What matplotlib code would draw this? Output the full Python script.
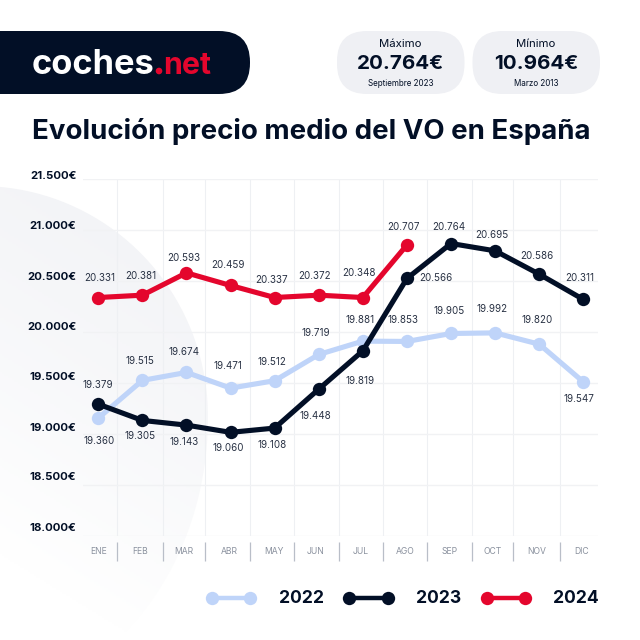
import numpy as np
import matplotlib
matplotlib.use("Agg")
import matplotlib.pyplot as plt
from matplotlib.patches import FancyBboxPatch, Circle, PathPatch
from matplotlib.path import Path

FONT = "Inter"
plt.rcParams["font.family"] = [FONT, "DejaVu Sans"]

months = ["ENE", "FEB", "MAR", "ABR", "MAY", "JUN", "JUL", "AGO", "SEP", "OCT", "NOV", "DIC"]
y_ticks = [18000, 18500, 19000, 19500, 20000, 20500, 21000, 21500]
y_tick_labels = ["18.000€", "18.500€", "19.000€", "19.500€", "20.000€", "20.500€", "21.000€", "21.500€"]

# Height of the marks as drawn in the picture
v2022 = [19157, 19527, 19605, 19451, 19524, 19781, 19912, 19909, 19987, 19993, 19882, 19512]
v2023 = [19294, 19134, 19088, 19017, 19059, 19441, 19817, 20527, 20870, 20798, 20569, 20321]
v2024 = [20340, 20363, 20582, 20458, 20340, 20363, 20340, 20856]

# Printed labels
l2022 = ["19.360", "19.515", "19.674", "19.471", "19.512", "19.719", "19.881", "19.853", "19.905", "19.992", "19.820", "19.547"]
l2023 = ["19.379", "19.305", "19.143", "19.060", "19.108", "19.448", "19.819", "20.566", "20.764", "20.695", "20.586", "20.311"]
l2024 = ["20.331", "20.381", "20.593", "20.459", "20.337", "20.372", "20.348", "20.707"]

# Label offsets from their marks, pixels (dx, up)
o2022 = [(1, -23), (-2, 19), (-2.5, 20), (-2.6, 22), (-3, 19), (-3, 21), (-3, 21), (-3.6, 21), (-2, 22), (-3, 24), (-2, 24), (-4.6, -17)]
o2023 = [(0, 19), (-2, -16), (-2, -17), (-2.6, -16), (-3, -17), (-3, -27), (-3, -30), (29, 0), (-2, 17), (-3, 16), (-2, 18), (-4, 21)]
o2024 = [(1, 20), (-2, 19), (-2.5, 15), (-2.6, 20), (-3, 18), (-4, 19), (-3.5, 25), (-3, 18)]

DARK, RED, LIGHT = "#020f26", "#e4062d", "#bfd4f9"
S = 640.0
fig = plt.figure(figsize=(6.4, 6.4), dpi=100, facecolor="white")

# Page layer in pixel coordinates
bg = fig.add_axes([0, 0, 1, 1], zorder=0)
bg.set_xlim(0, S); bg.set_ylim(S, 0); bg.axis("off")

# Soft blob behind the chart, fading towards the bottom
gx, gy = np.meshgrid(np.linspace(0, 240, 120), np.linspace(180, 640, 230))
t = np.clip((gy - 187) / 430 + (100 - gx) / 700, 0, 1) ** 1.25
base = np.array([0xf3, 0xf4, 0xf7]) / 255
img = base[None, None, :] + (1 - base)[None, None, :] * t[:, :, None]
im = bg.imshow(img, extent=(0, 240, 640, 180), aspect="auto", zorder=0)
th1 = np.linspace(np.pi, 2 * np.pi, 80)
th2 = np.linspace(0, np.pi, 80)
bx = np.r_[-20 + 228 * np.cos(th1), -20 + 228 * np.cos(th2)]
by = np.r_[417 + 231 * np.sin(th1), 417 + 279 * np.sin(th2)]
patch = PathPatch(Path(np.c_[bx, by]), transform=bg.transData, fc="none", ec="none")
bg.add_patch(patch)
im.set_clip_path(patch)

bg.add_patch(FancyBboxPatch((-60, 31), 310, 63, boxstyle="round,pad=0,rounding_size=31", fc=DARK, ec="none"))
for x0 in (337, 472.5):
    bg.add_patch(FancyBboxPatch((x0, 31), 127.5, 63, boxstyle="round,pad=0,rounding_size=30", fc="#eff0f4", ec="none"))
bg.text(32, 74, "coches", color="white", fontsize=24.8, fontweight="bold", va="baseline", ha="left")
bg.text(163.5, 74, "net", color=RED, fontsize=21.8, fontweight="bold", va="baseline", ha="left")
bg.add_patch(Circle((159, 71), 3.3, fc=RED, ec="none"))

for cx, a, b, c in [(400.5, "Máximo", "20.764€", "Septiembre 2023"), (536, "Mínimo", "10.964€", "Marzo 2013")]:
    bg.text(cx, 43.7, a, color=DARK, fontsize=8.2, ha="center", va="center")
    bg.text(cx, 64, b, color=DARK, fontsize=14.8, fontweight="bold", ha="center", va="center")
    bg.text(cx, 83, c, color=DARK, fontsize=5.8, ha="center", va="center")

bg.text(311.5, 131.5, "Evolución precio medio del VO en España", color=DARK, fontsize=19.9,
        fontweight="bold", ha="center", va="center")

# Chart
L, R, T, B = 83, 598, 179.3, 536
ax = fig.add_axes([L / S, 1 - B / S, (R - L) / S, (B - T) / S], zorder=1)
ax.patch.set_alpha(0)
X0, X1 = -0.347, 11.333
ax.set_xlim(X0, X1)
ax.set_ylim(18000, 21500)
for s in ax.spines.values():
    s.set_visible(False)
ax.set_yticks(y_ticks)
ax.set_yticklabels([])
ax.tick_params(length=0)
ax.set_xticks([])
ax.grid(axis="y", color="#f1f2f4", lw=1.0)
ax.set_axisbelow(True)

sep = [0.433, 1.47, 2.42, 3.43, 4.44, 5.45, 6.45, 7.46, 8.47, 9.41, 10.46]
for s in sep:
    ax.axvline(s, color="#eef0f3", lw=0.8, zorder=0.5)
    ax.annotate("", xy=(s, 0), xycoords=("data", "axes fraction"),
                xytext=(s, -0.0163 * 1), textcoords=("data", "axes fraction"))
    px = L + (s - X0) / (X1 - X0) * (R - L)
    bg.plot([px, px], [541.7, 561], color="#b9bec8", lw=0.9, solid_capstyle="butt")

# Tick labels sit slightly off their gridlines in the reference
tick_dy = [8.2, 7.7, 6.2, 5.9, 5.2, 4.7, 4.5, 3.8]
for v, t_, d in zip(y_ticks, y_tick_labels, tick_dy):
    ax.annotate(t_, xy=(0, v), xycoords=("axes fraction", "data"), xytext=(-6.7, d), textcoords="offset pixels",
                ha="right", va="center", fontsize=8.2, fontweight="bold", color=DARK, annotation_clip=False)

month_dx = [0.7, -2.1, -2.5, -1.6, -1, -2.8, -2.1, -1.6, -1.7, -2.1, -2.2, -1.3]
for i, (m, d) in enumerate(zip(months, month_dx)):
    ax.annotate(m, xy=(i, 0), xycoords=("data", "axes fraction"), xytext=(d, -15.7), textcoords="offset pixels",
                ha="center", va="center", fontsize=6.2, color="#8a919e", annotation_clip=False)

for vals, labs, offs, col, z in [(v2022, l2022, o2022, LIGHT, 3), (v2023, l2023, o2023, DARK, 4), (v2024, l2024, o2024, RED, 5)]:
    x = np.arange(len(vals))
    ax.plot(x, vals, color=col, lw=3.7, marker="o", ms=9.6, mec=col, mew=0, zorder=z, clip_on=False,
            solid_joinstyle="round")
    for xi, v, t_, o in zip(x, vals, labs, offs):
        ax.annotate(t_, xy=(xi, v), xytext=o, textcoords="offset pixels", ha="center", va="center",
                    fontsize=7.1, color="#2a3345", zorder=8)

# Legend
for x0, x1, tx, col, name in [(211.7, 250, 278.7, LIGHT, "2022"), (349.3, 387.7, 415.7, DARK, "2023"), (487, 525.3, 553.3, RED, "2024")]:
    bg.plot([x0, x1], [598, 598], color=col, lw=3.2, marker="o", ms=9.6, mew=0)
    bg.text(tx, 598.5, name, color=DARK, fontsize=12.6, fontweight="bold", ha="left", va="center")
bg.set_xlim(0, S); bg.set_ylim(S, 0)

fig.savefig("out.png", dpi=100)
